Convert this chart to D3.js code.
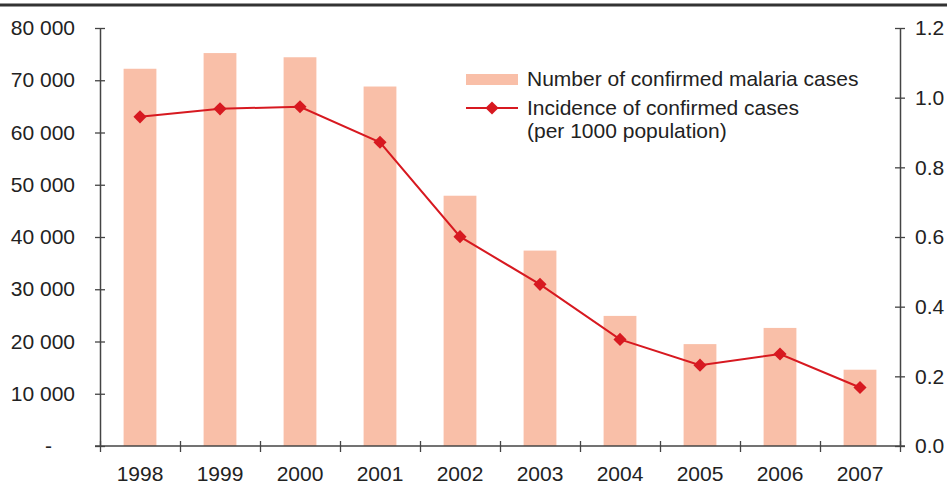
<!DOCTYPE html>
<html>
<head>
<meta charset="utf-8">
<script src="https://cdn.jsdelivr.net/npm/d3@7"></script>
<style>
  body { margin: 0; background: #fff; }
  svg { display: block; font-family: "Liberation Sans", Arial, sans-serif; }
</style>
</head>
<body>
<div id="chart"></div>
<script>
// Data
const years = ["1998", "1999", "2000", "2001", "2002", "2003", "2004", "2005", "2006", "2007"];
const cases = [72200, 75200, 74400, 68800, 47900, 37400, 24900, 19500, 22600, 14600];
const incidence = [0.945, 0.968, 0.974, 0.872, 0.601, 0.464, 0.306, 0.232, 0.264, 0.168];
const leftTicks = [0, 10000, 20000, 30000, 40000, 50000, 60000, 70000, 80000];
const rightTicks = [0, 0.2, 0.4, 0.6, 0.8, 1.0, 1.2];
const legendLabels = ["Number of confirmed malaria cases", "Incidence of confirmed cases", "(per 1000 population)"];

// Dimensions
const W = 947, H = 484;
const margin = {top: 28, right: 47, bottom: 38, left: 100};
const plotW = W - margin.left - margin.right;
const plotH = H - margin.top - margin.bottom;

const barColor = "#f9bfa8";
const lineColor = "#d71920";
const axisColor = "#444";
const textColor = "#222";
const fontSize = "21px";

const svg = d3.select("#chart").append("svg")
    .attr("width", W)
    .attr("height", H);

// top rule
svg.append("line")
    .attr("x1", 0).attr("x2", W)
    .attr("y1", 5).attr("y2", 5)
    .attr("stroke", "#333")
    .attr("stroke-width", 3);

const g = svg.append("g")
    .attr("transform", `translate(${margin.left},${margin.top})`);

// Scales
const x = d3.scaleBand()
    .domain(years)
    .range([0, plotW])
    .paddingInner(0.59)
    .paddingOuter(0.295);

const xEdge = d3.scaleLinear()
    .domain([0, years.length])
    .range([0, plotW]);

const yL = d3.scaleLinear().domain([0, 80000]).range([plotH, 0]);
const yR = d3.scaleLinear().domain([0, 1.2]).range([plotH, 0]);

// Bars
g.selectAll(".bar")
    .data(cases)
    .enter()
    .append("rect")
    .attr("class", "bar")
    .attr("x", (d, i) => x(years[i]))
    .attr("width", x.bandwidth())
    .attr("y", d => yL(d))
    .attr("height", d => plotH - yL(d))
    .attr("fill", barColor);

// Left axis
const fmt = d => d === 0 ? "-" : d3.format(",")(d).replace(/,/g, " ");
const yAxisL = g.append("g")
    .call(d3.axisLeft(yL).tickValues(leftTicks).tickFormat(fmt).tickSizeOuter(0));
yAxisL.select(".domain").attr("stroke", axisColor).attr("stroke-width", 1.5);
yAxisL.selectAll(".tick line").attr("x1", 5).attr("x2", -5).attr("stroke", axisColor).attr("stroke-width", 1.3);
yAxisL.selectAll(".tick text")
    .attr("x", d => d === 0 ? -48 : -25)
    .style("font-size", fontSize)
    .style("font-family", "Liberation Sans, Arial, sans-serif")
    .attr("fill", textColor);

// Right axis
const yAxisR = g.append("g")
    .attr("transform", `translate(${plotW},0)`)
    .call(d3.axisRight(yR).tickValues(rightTicks).tickFormat(d3.format(".1f")).tickSizeOuter(0));
yAxisR.select(".domain").attr("stroke", axisColor).attr("stroke-width", 1.5);
yAxisR.selectAll(".tick line").attr("x1", -5).attr("x2", 5).attr("stroke", axisColor).attr("stroke-width", 1.3);
yAxisR.selectAll(".tick text")
    .attr("x", 15)
    .style("font-size", fontSize)
    .style("font-family", "Liberation Sans, Arial, sans-serif")
    .attr("fill", textColor);

// Bottom axis: tick marks at category edges, labels at centres
const xAxis = g.append("g")
    .attr("transform", `translate(0,${plotH})`)
    .call(d3.axisBottom(xEdge).tickValues(d3.range(0, years.length + 1)).tickFormat("").tickSizeOuter(0));
xAxis.select(".domain").attr("d", `M-5,0H${plotW + 5}`).attr("stroke", axisColor).attr("stroke-width", 1.5);
xAxis.selectAll(".tick line").attr("y1", -5).attr("y2", 6).attr("stroke", axisColor).attr("stroke-width", 1.3);

const xLabels = g.append("g")
    .attr("transform", `translate(0,${plotH})`)
    .call(d3.axisBottom(x).tickSize(0));
xLabels.select(".domain").remove();
xLabels.selectAll(".tick text")
    .attr("y", 20)
    .style("font-size", fontSize)
    .style("font-family", "Liberation Sans, Arial, sans-serif")
    .attr("fill", textColor);

// Line
const cx = i => x(years[i]) + x.bandwidth() / 2;
const line = d3.line()
    .x((d, i) => cx(i))
    .y(d => yR(d));

g.append("path")
    .datum(incidence)
    .attr("fill", "none")
    .attr("stroke", lineColor)
    .attr("stroke-width", 2)
    .attr("d", line);

const diamond = d3.symbol().type(d3.symbolDiamond2).size(110);
g.selectAll(".pt")
    .data(incidence)
    .enter()
    .append("path")
    .attr("class", "pt")
    .attr("d", diamond)
    .attr("transform", (d, i) => `translate(${cx(i)},${yR(d)})`)
    .attr("fill", lineColor);

// Legend
const leg = svg.append("g");
leg.append("rect")
    .attr("x", 466).attr("y", 74)
    .attr("width", 52).attr("height", 11)
    .attr("fill", barColor);
leg.append("line")
    .attr("x1", 466).attr("x2", 518)
    .attr("y1", 108).attr("y2", 108)
    .attr("stroke", lineColor).attr("stroke-width", 2);
leg.append("path")
    .attr("d", diamond)
    .attr("transform", "translate(492,108)")
    .attr("fill", lineColor);

leg.selectAll("text")
    .data(legendLabels)
    .enter()
    .append("text")
    .attr("x", 527)
    .attr("y", (d, i) => [86, 115, 138][i])
    .style("font-size", fontSize)
    .attr("fill", textColor)
    .text(d => d);
</script>
</body>
</html>
